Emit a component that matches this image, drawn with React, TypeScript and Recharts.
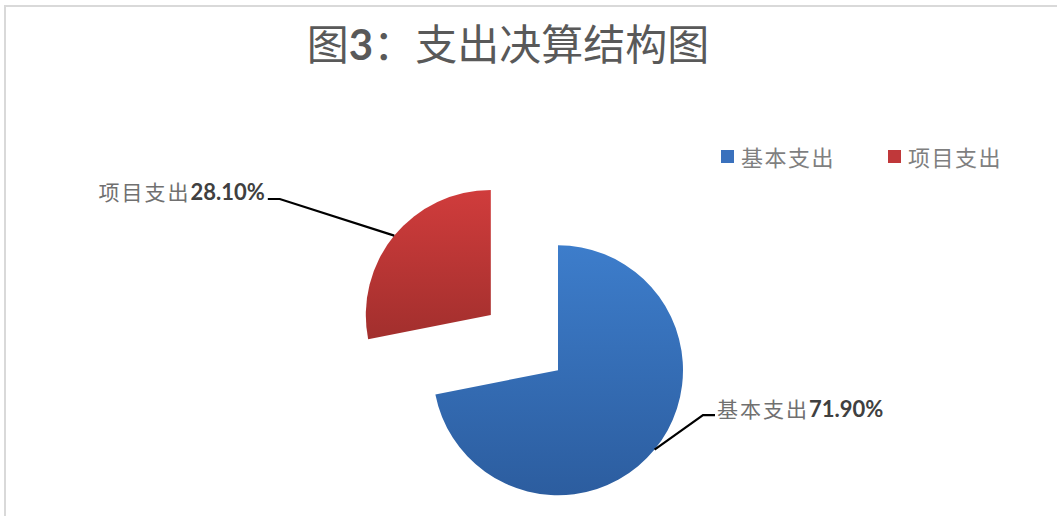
import React from 'react';
import { PieChart, Pie, Cell, Legend } from 'recharts';

const categories = ['基本支出', '项目支出'];
const shares = [71.9, 28.1];
const shareLabels = ['71.90%', '28.10%'];
const legendColors = ['#3a71bd', '#c0383a'];
const gradientStops = [
  ['#3d7dcb', '#2c5d9f'],
  ['#d03c3c', '#a22f2d'],
];

const W = 1057;
const H = 516;
const CENTER = { x: 524.4, y: 342.6 };
const RADIUS = 125;
const EXPLODE = 43.5;
// where the leader line bends, relative to each slice's own centre
const LABEL_ELBOW = [
  { dx: 145, dy: 45 },
  { dx: -211, dy: -116 },
];
const RAD = Math.PI / 180;

const rows = categories.map((name, i) => ({ name, value: shares[i] }));

const total = shares.reduce((a, b) => a + b, 0);
let acc = 0;
const offsets = shares.map((v) => {
  const mid = 90 - ((acc + v / 2) / total) * 360;
  acc += v;
  return { dx: EXPLODE * Math.cos(mid * RAD), dy: -EXPLODE * Math.sin(mid * RAD) };
});

const renderLabel = (k: number) => (props: any) => {
  if (props.index !== k) return null;
  const { cx, cy, midAngle, outerRadius } = props;
  const sx = cx + outerRadius * Math.cos(-midAngle * RAD);
  const sy = cy + outerRadius * Math.sin(-midAngle * RAD);
  const ex = cx + LABEL_ELBOW[k].dx;
  const ey = cy + LABEL_ELBOW[k].dy;
  const right = ex > cx;
  const tx = ex + (right ? 12 : -12);
  return (
    <g>
      <polyline
        points={`${sx},${sy} ${ex},${ey} ${tx},${ey}`}
        fill="none"
        stroke="#000"
        strokeWidth={2.2}
      />
      <text
        x={tx + (right ? 2 : -3)}
        y={ey + (right ? 2 : 1)}
        textAnchor={right ? 'start' : 'end'}
      >
        <tspan fontFamily="Noto Sans CJK SC" fontSize={21} fill="#707070" letterSpacing={2}>
          {categories[k]}
        </tspan>
        <tspan fontFamily="Lato" fontWeight={700} fontSize={22} fill="#404040">
          {shareLabels[k]}
        </tspan>
      </text>
    </g>
  );
};

const renderLegend = () => (
  <div style={{ display: 'flex', alignItems: 'center' }}>
    {categories.map((c, i) => (
      <div key={c} style={{ display: 'flex', alignItems: 'center', marginRight: i === 0 ? 53 : 0 }}>
        <span style={{ width: 13, height: 13, background: legendColors[i], display: 'inline-block', marginRight: 7 }} />
        <span style={{ fontFamily: 'Noto Sans CJK SC', fontSize: 22, color: '#7f7f7f', letterSpacing: 1.5, lineHeight: '26px' }}>
          {c}
        </span>
      </div>
    ))}
  </div>
);

export default function App() {
  return (
    <div style={{ position: 'absolute', left: 0, top: 0, width: W, height: H, background: '#fff', overflow: 'hidden' }}>
      <div
        style={{
          position: 'absolute',
          left: 4,
          top: 5,
          width: 1200,
          height: 700,
          borderLeft: '2px solid #d9d9d9',
          borderTop: '2px solid #d9d9d9',
        }}
      />
      <div
        style={{
          position: 'absolute',
          left: 0,
          top: 20,
          width: 1016,
          textAlign: 'center',
          fontFamily: 'Noto Sans CJK SC',
          fontSize: 42,
          lineHeight: '44px',
          color: '#595959',
        }}
      >
        图<span style={{ fontFamily: 'Lato', fontWeight: 700 }}>3</span>：支出决算结构图
      </div>
      <div style={{ position: 'absolute', left: 0, top: 0 }}>
        <PieChart width={W} height={H} margin={{ top: 0, right: 0, bottom: 0, left: 0 }}>
          <defs>
            {gradientStops.map((g, i) => (
              <linearGradient key={i} id={`grad${i}`} x1="0" y1="0" x2="0" y2="1">
                <stop offset="0%" stopColor={g[0]} />
                <stop offset="100%" stopColor={g[1]} />
              </linearGradient>
            ))}
          </defs>
          {categories.map((_, k) => (
            <Pie
              key={k}
              data={rows}
              dataKey="value"
              nameKey="name"
              cx={CENTER.x + offsets[k].dx}
              cy={CENTER.y + offsets[k].dy}
              outerRadius={RADIUS}
              startAngle={90}
              endAngle={-270}
              stroke="none"
              labelLine={false}
              label={renderLabel(k)}
              isAnimationActive={false}
            >
              {rows.map((r, i) => (
                <Cell key={r.name} fill={i === k ? `url(#grad${i})` : 'transparent'} stroke="none" />
              ))}
            </Pie>
          ))}
          <Legend
            content={renderLegend}
            wrapperStyle={{ position: 'absolute', left: 721, top: 143, width: 320 }}
          />
        </PieChart>
      </div>
    </div>
  );
}
